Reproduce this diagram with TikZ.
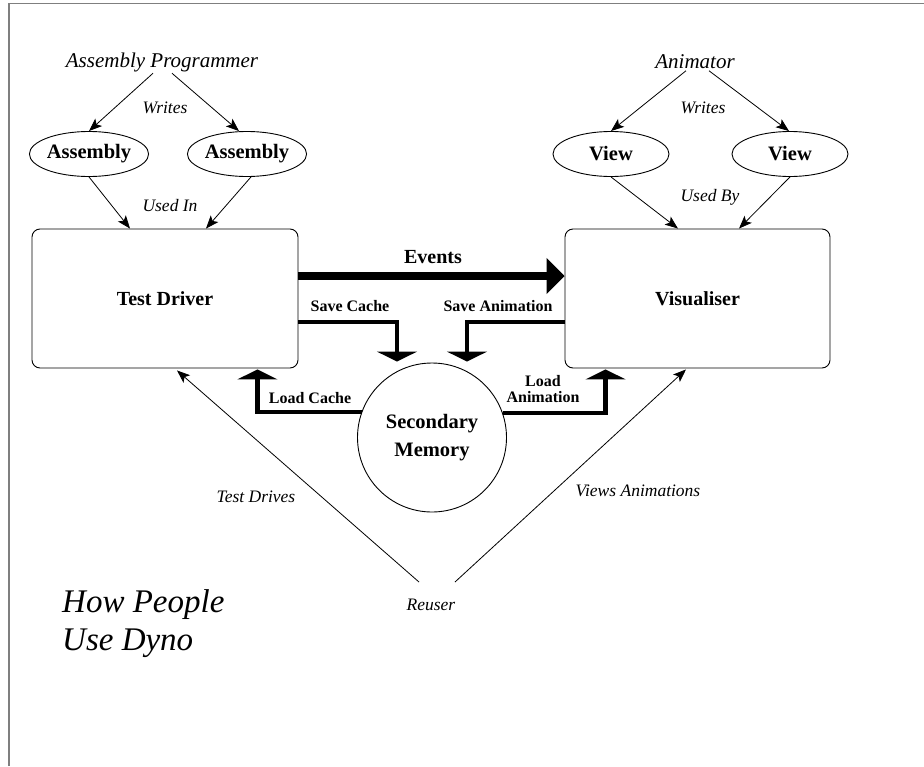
\documentclass[tikz,border=0pt]{standalone}
\usepackage{fontspec}
\setmainfont{Liberation Serif}
\usetikzlibrary{arrows.meta,shapes.geometric}
\definecolor{framegray}{HTML}{7F7F7F}
\begin{document}
\begin{tikzpicture}[x=1pt,y=-1pt,
  edgelbl/.style={font=\fontsize{17.5}{20}\selectfont\itshape, inner sep=0pt},
  actor/.style={font=\fontsize{21}{24}\selectfont\itshape, inner sep=0pt},
  oval/.style={ellipse, draw, line width=0.9pt, minimum width=116pt, minimum height=45pt,
               inner sep=0pt, font=\fontsize{20.5}{24}\selectfont\bfseries},
  comp/.style={draw, rounded corners=8pt, line width=0.9pt, minimum height=139pt,
               font=\fontsize{20}{24}\selectfont\bfseries},
  flowlbl/.style={font=\fontsize{16}{16}\selectfont\bfseries, inner sep=0pt, align=center},
  thinarrow/.style={-{Stealth[length=13pt,width=10pt,inset=3pt]}, line width=0.8pt},
  flow/.style={line width=4.5pt, -{Triangle[length=10pt,width=40pt]}},
]
\useasboundingbox (0,0) rectangle (924,766);
% page frame
\draw[framegray, line width=1.6pt] (8.8,766) -- (8.8,3.6) -- (924,3.6);

% Assembly side
\node[actor] (ap) at (162,62) {Assembly Programmer};
\node[oval] (a1) at (89,154) {Assembly};
\node[oval] (a2) at (247,154) {Assembly};
\node[edgelbl] (w1) at (165,108) {Writes};
\node[edgelbl] (ui) at (170,206) {Used In};

% Animation side
\node[actor] (an) at (695,62) {Animator};
\node[oval] (v1) at (611,154) {View};
\node[oval] (v2) at (790,154) {View};
\node[edgelbl] (w2) at (703,108) {Writes};
\node[edgelbl] (ub) at (710,197) {Used By};

% main components
\node[comp, minimum width=266pt] (td) at (165,298.5) {Test Driver};
\node[comp, minimum width=265pt] (vis) at (697.5,298.5) {Visualiser};
\node[circle, draw, line width=0.9pt, minimum size=149pt, inner sep=0pt, align=center,
      font=\fontsize{20.5}{28}\selectfont\bfseries] (sm) at (432,437.5) {Secondary\\Memory};

% people
\node[edgelbl] (ru) at (431,605) {Reuser};
\node[edgelbl] (tdl) at (256,497) {Test Drives};
\node[edgelbl] (val) at (638,491) {Views Animations};
\node[anchor=west, align=left, inner sep=0pt,
      font=\fontsize{33}{38}\selectfont\itshape] (title) at (62,624) {How People\\Use Dyno};

% writing and use
\draw[thinarrow] ([xshift=-9pt,yshift=-1.5pt]ap.south) -- (a1.north);
\draw[thinarrow] ([xshift=10pt,yshift=-1.5pt]ap.south) -- ([xshift=-8pt]a2.north);
\draw[thinarrow] (a1.south) -- ([xshift=-35pt]td.north);
\draw[thinarrow] (a2.-80) -- ([xshift=41pt]td.north);
\draw[thinarrow] ([xshift=-9pt,yshift=-1.5pt]an.south) -- (v1.north);
\draw[thinarrow] ([xshift=14pt,yshift=-1.5pt]an.south) -- ([xshift=-1pt]v2.north);
\draw[thinarrow] (v1.south) -- ([xshift=-19.5pt]vis.north);
\draw[thinarrow] (v2.south) -- ([xshift=41.5pt]vis.north);
\draw[thinarrow] ([shift={(-12,-23)}]ru.center) -- ([xshift=12pt,yshift=-2pt]td.south);
\draw[thinarrow] ([shift={(24,-23)}]ru.center) -- ([xshift=-11.5pt,yshift=-1pt]vis.south);

% data flows
\draw[line width=8pt, -{Triangle[length=18pt,width=35pt]}]
  ([yshift=22.5pt]td.east) -- ([yshift=22.5pt]vis.west);
\node[font=\fontsize{20}{24}\selectfont\bfseries, inner sep=0pt] (ev) at (433,257) {Events};
\draw[flow] ([yshift=-23.5pt]td.east) -| ([xshift=-35pt,yshift=1pt]sm.north);
\draw[flow] ([yshift=-23.5pt]vis.west) -| ([xshift=35pt,yshift=1pt]sm.north);
\draw[flow] (sm.160.8) -| ([xshift=-41pt,yshift=-1pt]td.south east);
\draw[flow] (sm.19.2) -| ([xshift=41pt,yshift=-1pt]vis.south west);
\node[flowlbl] (sc) at (350,306) {Save Cache};
\node[flowlbl] (sa) at (498,306) {Save Animation};
\node[flowlbl] (lc) at (310,398) {Load Cache};
\node[flowlbl] (la) at (543,389) {Load\\Animation};
\end{tikzpicture}
\end{document}
